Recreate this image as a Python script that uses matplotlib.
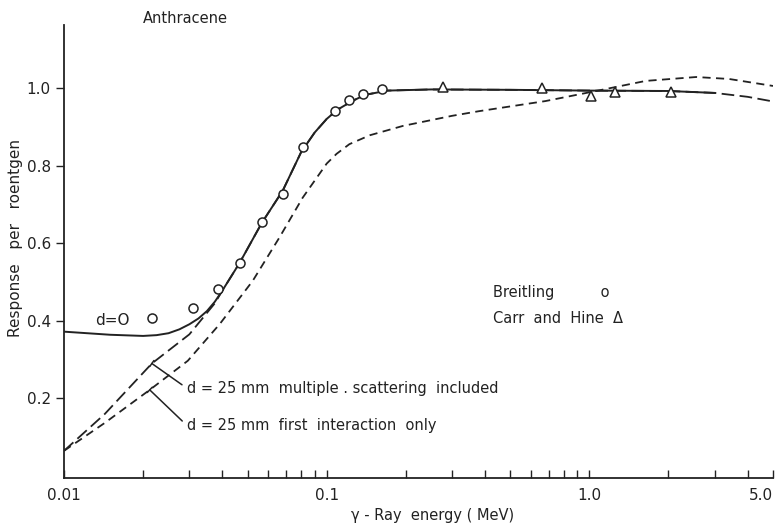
import numpy as np
import matplotlib.pyplot as plt
from matplotlib.ticker import FixedLocator, LogLocator, NullFormatter

# ── data ──────────────────────────────────────────────────────
# Breitling (circles)
breit_e = [0.0216, 0.0309, 0.0385, 0.0467, 0.0566, 0.068, 0.081, 0.108, 0.122, 0.138, 0.162]
breit_r = [0.408, 0.433, 0.482, 0.549, 0.655, 0.727, 0.848, 0.941, 0.969, 0.985, 0.997]

# Carr and Hine (triangles)
carr_e = [0.276, 0.663, 1.01, 1.256, 2.05]
carr_r = [1.003, 1.000, 0.979, 0.990, 0.990]

# d = 0 curve (solid)
d0_e = [0.01, 0.015, 0.02, 0.0225, 0.025, 0.0275, 0.03, 0.0325, 0.035, 0.0375, 0.04,
        0.0467, 0.0566, 0.068, 0.08, 0.09, 0.1, 0.11, 0.125, 0.14, 0.17, 0.25, 0.5,
        1.0, 2.0, 3.0]
d0_r = [0.372, 0.364, 0.361, 0.363, 0.368, 0.378, 0.391, 0.406, 0.425, 0.449, 0.477,
        0.55, 0.652, 0.735, 0.835, 0.885, 0.92, 0.944, 0.966, 0.982, 0.993, 0.996, 0.995,
        0.993, 0.992, 0.987]

# d = 25 mm, multiple scattering included (long dashes)
multi_e = [0.01, 0.0143, 0.0216, 0.03, 0.0375, 0.04, 0.0467, 0.0566, 0.068, 0.08,
           0.09, 0.1, 0.11, 0.125, 0.14, 0.17, 0.25, 0.5, 1.0, 2.0, 3.0, 4.0, 5.0]
multi_r = [0.065, 0.16, 0.29, 0.365, 0.445, 0.477, 0.55, 0.652, 0.735, 0.835,
           0.885, 0.92, 0.944, 0.966, 0.982, 0.993, 0.996, 0.995, 0.993, 0.992, 0.987, 0.977, 0.965]

# d = 25 mm, first interaction only (short dashes)
first_e = [0.01, 0.0143, 0.0212, 0.0296, 0.0392, 0.0523, 0.066, 0.081, 0.1, 0.109,
           0.122, 0.146, 0.195, 0.30, 0.38, 0.68, 1.06, 1.64, 2.55, 3.4, 5.0]
first_r = [0.065, 0.137, 0.222, 0.297, 0.392, 0.503, 0.614, 0.717, 0.805, 0.83,
           0.855, 0.878, 0.902, 0.928, 0.94, 0.966, 0.992, 1.018, 1.028, 1.023, 1.005]

x_ticks = [0.01, 0.1, 1.0, 5.0]
x_ticklabels = ['0.01', '0.1', '1.0', '5.0']
y_ticks = [0.2, 0.4, 0.6, 0.8, 1.0]
y_ticklabels = ['0.2', '0.4', '0.6', '0.8', '1.0']

# ── figure ───────────────────────────────────────────────────
ink = '#222222'
plt.rcParams['font.family'] = ['DejaVu Sans']

fig = plt.figure(figsize=(7.82, 5.26), dpi=100)
ax = fig.add_axes([64/782, 48/526, 709/782, 453/526])

ax.plot(multi_e, multi_r, color=ink, lw=1.3, dashes=(7, 3))
ax.plot(first_e, first_r, color=ink, lw=1.3, dashes=(4.5, 3))
ax.plot(d0_e, d0_r, color=ink, lw=1.4)
ax.plot(breit_e, breit_r, 'o', ms=6.5, mfc='white', mec=ink, mew=1.1)
ax.plot(carr_e, carr_r, '^', ms=7.5, mfc='white', mec=ink, mew=1.1)

ax.set_xscale('log')
ax.set_xlim(0.01, 5.0)
ax.set_ylim(-0.005, 1.162)

for s in ['top', 'right']:
    ax.spines[s].set_visible(False)
for s in ['left', 'bottom']:
    ax.spines[s].set_color(ink)
    ax.spines[s].set_linewidth(1.3)

ax.xaxis.set_major_locator(FixedLocator(x_ticks))
ax.set_xticklabels(x_ticklabels)
ax.xaxis.set_minor_locator(LogLocator(base=10, subs=np.arange(2, 10)))
ax.xaxis.set_minor_formatter(NullFormatter())
ax.tick_params(axis='x', which='both', direction='in', length=6, width=1.0,
               colors=ink, labelsize=11, pad=7)
ax.get_xticklabels()[-1].set_ha('right')
ax.set_yticks(y_ticks)
ax.set_yticklabels(y_ticklabels)
ax.tick_params(axis='y', direction='out', length=6, width=1.0, colors=ink, labelsize=11)

ax.set_xlabel('γ - Ray  energy ( MeV)', fontsize=10.5, color=ink)
ax.xaxis.set_label_coords(0.52, -0.066)
ax.set_ylabel('Response   per   roentgen', fontsize=11, color=ink)
ax.yaxis.set_label_coords(-0.058, 0.53)

ax.text(0.0291, 1.178, 'Anthracene', fontsize=10.5, color=ink, ha='center', va='center',
        clip_on=False)
ax.text(0.0131, 0.40, 'd=O', fontsize=11, color=ink, ha='left', va='center')
ax.text(0.428, 0.472, 'Breitling          o', fontsize=10.5, color=ink, va='center')
ax.text(0.428, 0.405, 'Carr  and  Hine  Δ', fontsize=10.5, color=ink, va='center')

arrow = dict(arrowstyle='|-|, widthA=0, widthB=0.25', color=ink, lw=1.1,
             shrinkA=2, shrinkB=0, relpos=(0, 0.5))
ax.annotate('d = 25 mm  multiple . scattering  included', xy=(0.0216, 0.29),
            xytext=(0.0294, 0.226), fontsize=10.5, color=ink, va='center',
            arrowprops=arrow)
ax.annotate('d = 25 mm  first  interaction  only', xy=(0.0212, 0.222),
            xytext=(0.0294, 0.13), fontsize=10.5, color=ink, va='center',
            arrowprops=arrow)

fig.savefig('out.png', dpi=100, facecolor='white')
